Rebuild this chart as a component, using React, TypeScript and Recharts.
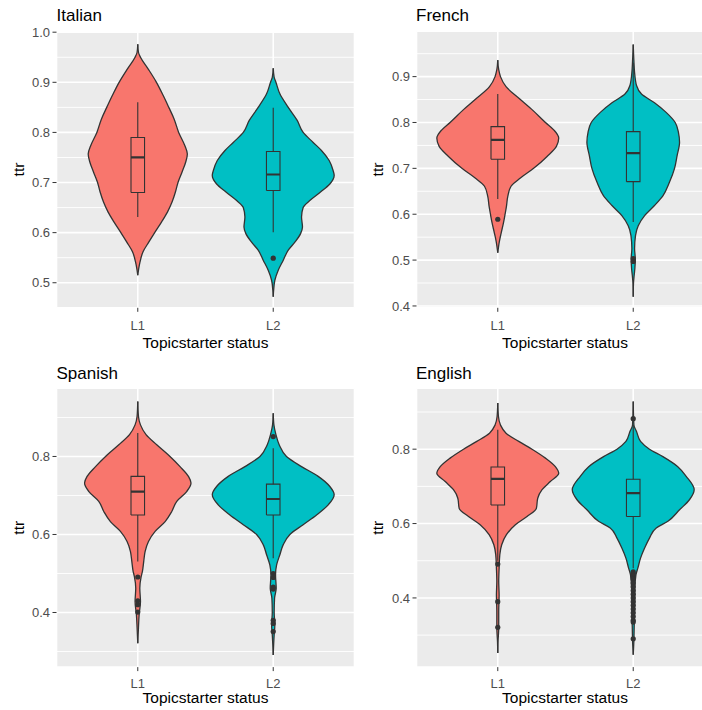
import React from "react";
import { ComposedChart, Area, Scatter, XAxis, YAxis, CartesianGrid } from "recharts";

const CATEGORIES = ["L1", "L2"];
const GROUP_FILLS = ["#F8766D", "#00BFC4"];
const INK = "#333333";
const FONT = '"Liberation Sans", Arial, Helvetica, sans-serif';

// violin outlines: ttr value and half width (in category units)
const italianL1Ttr = [0.976, 0.96, 0.95, 0.927, 0.9, 0.874, 0.85, 0.827, 0.8, 0.774, 0.757, 0.741, 0.721, 0.7, 0.681, 0.661, 0.641, 0.621, 0.6, 0.581, 0.562, 0.542, 0.528, 0.515];
const italianL1Width = [0, 0.005, 0.02, 0.076, 0.138, 0.187, 0.229, 0.268, 0.302, 0.347, 0.366, 0.354, 0.327, 0.297, 0.278, 0.253, 0.219, 0.175, 0.125, 0.081, 0.039, 0.017, 0.007, 0];
const italianL2Ttr = [0.928, 0.91, 0.9, 0.877, 0.85, 0.824, 0.8, 0.78, 0.764, 0.744, 0.724, 0.714, 0.697, 0.681, 0.664, 0.65, 0.631, 0.611, 0.598, 0.581, 0.565, 0.545, 0.525, 0.505, 0.485, 0.472];
const italianL2Width = [0, 0.007, 0.02, 0.049, 0.111, 0.177, 0.221, 0.295, 0.356, 0.413, 0.442, 0.45, 0.418, 0.349, 0.27, 0.221, 0.209, 0.216, 0.202, 0.16, 0.111, 0.074, 0.037, 0.012, 0.003, 0];

const frenchL1Ttr = [0.936, 0.915, 0.9, 0.878, 0.85, 0.828, 0.8, 0.784, 0.766, 0.748, 0.726, 0.7, 0.679, 0.661, 0.639, 0.617, 0.6, 0.581, 0.559, 0.541, 0.516];
const frenchL1Width = [0, 0.007, 0.02, 0.061, 0.167, 0.253, 0.352, 0.413, 0.45, 0.433, 0.364, 0.265, 0.167, 0.098, 0.074, 0.064, 0.054, 0.042, 0.025, 0.012, 0];
const frenchL2Ttr = [0.97, 0.934, 0.909, 0.88, 0.862, 0.843, 0.822, 0.8, 0.778, 0.757, 0.728, 0.7, 0.67, 0.64, 0.619, 0.597, 0.575, 0.554, 0.525, 0.503, 0.481, 0.467, 0.45, 0.42];
const frenchL2Width = [0, 0.005, 0.01, 0.025, 0.061, 0.157, 0.243, 0.31, 0.334, 0.342, 0.324, 0.305, 0.268, 0.219, 0.157, 0.084, 0.037, 0.017, 0.01, 0.015, 0.012, 0.007, 0.002, 0];

const spanishL1Ttr = [0.941, 0.903, 0.881, 0.856, 0.83, 0.8, 0.774, 0.749, 0.732, 0.71, 0.685, 0.659, 0.633, 0.608, 0.582, 0.556, 0.531, 0.505, 0.492, 0.462, 0.428, 0.394, 0.36, 0.321];
const spanishL1Width = [0, 0.005, 0.02, 0.061, 0.14, 0.238, 0.312, 0.374, 0.393, 0.361, 0.288, 0.251, 0.202, 0.128, 0.079, 0.054, 0.044, 0.034, 0.025, 0.015, 0.02, 0.01, 0.005, 0];
const spanishL2Ttr = [0.911, 0.881, 0.856, 0.83, 0.8, 0.774, 0.749, 0.723, 0.702, 0.676, 0.65, 0.625, 0.6, 0.574, 0.548, 0.522, 0.497, 0.462, 0.437, 0.4, 0.368, 0.343, 0.291];
const spanishL2Width = [0, 0.005, 0.02, 0.044, 0.098, 0.209, 0.332, 0.418, 0.45, 0.406, 0.32, 0.221, 0.123, 0.074, 0.049, 0.025, 0.017, 0.022, 0.01, 0.007, 0.012, 0.007, 0];

const englishL1Ttr = [0.924, 0.888, 0.865, 0.843, 0.821, 0.8, 0.776, 0.753, 0.735, 0.713, 0.691, 0.668, 0.641, 0.619, 0.597, 0.57, 0.543, 0.516, 0.48, 0.444, 0.408, 0.364, 0.319, 0.283, 0.252];
const englishL1Width = [0, 0.005, 0.02, 0.061, 0.155, 0.253, 0.352, 0.425, 0.45, 0.388, 0.327, 0.295, 0.285, 0.216, 0.13, 0.064, 0.029, 0.015, 0.01, 0.007, 0.01, 0.007, 0.007, 0.002, 0];
const englishL2Ttr = [0.928, 0.865, 0.847, 0.821, 0.8, 0.78, 0.753, 0.727, 0.691, 0.664, 0.637, 0.606, 0.588, 0.561, 0.534, 0.507, 0.48, 0.462, 0.426, 0.373, 0.319, 0.287, 0.247];
const englishL2Width = [0, 0.005, 0.025, 0.054, 0.12, 0.219, 0.329, 0.391, 0.45, 0.415, 0.342, 0.256, 0.17, 0.12, 0.084, 0.054, 0.034, 0.02, 0.012, 0.01, 0.007, 0.005, 0];

// box stats: lower whisker, q1, median, q3, upper whisker
const italianL1Box = [0.631, 0.68, 0.75, 0.79, 0.86];
const italianL2Box = [0.601, 0.684, 0.716, 0.762, 0.849];
const frenchL1Box = [0.633, 0.72, 0.762, 0.791, 0.862];
const frenchL2Box = [0.583, 0.671, 0.733, 0.78, 0.93];
const spanishL1Box = [0.531, 0.65, 0.71, 0.749, 0.86];
const spanishL2Box = [0.539, 0.65, 0.691, 0.729, 0.821];
const englishL1Box = [0.5, 0.65, 0.72, 0.752, 0.852];
const englishL2Box = [0.48, 0.619, 0.682, 0.719, 0.865];

// outliers
const italianL1Out: number[] = [];
const italianL2Out = [0.549];
const frenchL1Out = [0.589];
const frenchL2Out = [0.503, 0.497];
const spanishL1Out = [0.491, 0.43, 0.42, 0.401];
const spanishL2Out = [0.851, 0.5, 0.49, 0.465, 0.46, 0.38, 0.372, 0.351];
const englishL1Out = [0.491, 0.39, 0.321];
const englishL2Out = [0.882, 0.47, 0.465, 0.46, 0.455, 0.45, 0.44, 0.43, 0.42, 0.41, 0.4, 0.39, 0.38, 0.37, 0.36, 0.35, 0.34, 0.335, 0.29];

// y axis breaks
const italianTicks = [0.5, 0.6, 0.7, 0.8, 0.9, 1.0];
const italianMinor = [0.55, 0.65, 0.75, 0.85, 0.95];
const frenchTicks = [0.4, 0.5, 0.6, 0.7, 0.8, 0.9];
const frenchMinor = [0.45, 0.55, 0.65, 0.75, 0.85, 0.95];
const lowerTicks = [0.4, 0.6, 0.8];
const lowerMinor = [0.3, 0.5, 0.7, 0.9];

const panels = [
  {
    title: "Italian", l1: [italianL1Ttr, italianL1Width], l2: [italianL2Ttr, italianL2Width],
    boxes: [italianL1Box, italianL2Box], outliers: [italianL1Out, italianL2Out],
    ticks: italianTicks, minor: italianMinor, domain: [0.45, 1.002],
    plotLeft: 56.5, plotTop: 31.2, plotBottom: 307.8, titleY: 20.5, axisTitleY: 348.3, tickMargin: 9,
  },
  {
    title: "French", l1: [frenchL1Ttr, frenchL1Width], l2: [frenchL2Ttr, frenchL2Width],
    boxes: [frenchL1Box, frenchL2Box], outliers: [frenchL1Out, frenchL2Out],
    ticks: frenchTicks, minor: frenchMinor, domain: [0.396, 0.999],
    plotLeft: 416, plotTop: 31.2, plotBottom: 307.8, titleY: 20.5, axisTitleY: 348.3, tickMargin: 9,
  },
  {
    title: "Spanish", l1: [spanishL1Ttr, spanishL1Width], l2: [spanishL2Ttr, spanishL2Width],
    boxes: [spanishL1Box, spanishL2Box], outliers: [spanishL1Out, spanishL2Out],
    ticks: lowerTicks, minor: lowerMinor, domain: [0.26, 0.975],
    plotLeft: 56.5, plotTop: 388.3, plotBottom: 667.2, titleY: 379, axisTitleY: 703, tickMargin: 8,
  },
  {
    title: "English", l1: [englishL1Ttr, englishL1Width], l2: [englishL2Ttr, englishL2Width],
    boxes: [englishL1Box, englishL2Box], outliers: [englishL1Out, englishL2Out],
    ticks: lowerTicks, minor: lowerMinor, domain: [0.214, 0.964],
    plotLeft: 416, plotTop: 388.3, plotBottom: 667.2, titleY: 379, axisTitleY: 703, tickMargin: 8,
  },
];

const MARGIN_TOP = 31.2;
const AXIS_W = 56.5;
const PLOT_W = 298;
const BOX_HALF = 0.05;

// one row per ttr value; a violin that has no reading there gets a gap
function violinRows(l1: number[][], l2: number[][]) {
  const ys = Array.from(new Set([...l1[0], ...l2[0]])).sort((a, b) => b - a);
  return ys.map((y) => {
    const i = l1[0].indexOf(y);
    const j = l2[0].indexOf(y);
    return {
      y,
      l1: i >= 0 ? [1 - l1[1][i], 1 + l1[1][i]] : [null, null],
      l2: j >= 0 ? [2 - l2[1][j], 2 + l2[1][j]] : [null, null],
    };
  });
}

function boxParts(center: number, stats: number[]) {
  const [lo, q1, med, q3, hi] = stats;
  const a = center - BOX_HALF;
  const b = center + BOX_HALF;
  return {
    box: [{ x: a, y: q1 }, { x: b, y: q1 }, { x: b, y: q3 }, { x: a, y: q3 }, { x: a, y: q1 }],
    median: [{ x: a, y: med }, { x: b, y: med }],
    upper: [{ x: center, y: q3 }, { x: center, y: hi }],
    lower: [{ x: center, y: lo }, { x: center, y: q1 }],
  };
}

const noMark = () => <g />;
const outlierMark = (p: any) => <circle cx={p.cx} cy={p.cy} r={2.6} fill={INK} />;

const tickStyle = { fill: "#4D4D4D", fontSize: 13, fontFamily: FONT };

function ViolinPanel({ panel }: { panel: any }) {
  const rows = violinRows(panel.l1, panel.l2);
  const height = panel.plotBottom - panel.plotTop + MARGIN_TOP + 48;
  return (
    <div style={{ position: "absolute", left: panel.plotLeft - AXIS_W, top: panel.plotTop - MARGIN_TOP }}>
      <ComposedChart
        layout="vertical"
        width={AXIS_W + PLOT_W + 5.5}
        height={height}
        data={rows}
        margin={{ top: MARGIN_TOP, right: 5.5, bottom: 8, left: 0 }}
      >
        <CartesianGrid fill="#EBEBEB" stroke="#FFFFFF" strokeWidth={1.6} />
        <CartesianGrid stroke="#FFFFFF" strokeWidth={0.9} vertical={false} horizontalValues={panel.minor} />
        <XAxis
          type="number"
          domain={[0.4, 2.6]}
          ticks={[1, 2]}
          interval={0}
          allowDataOverflow
          tickFormatter={(v: number) => CATEGORIES[v - 1]}
          axisLine={false}
          tickLine={{ stroke: INK, strokeWidth: 1 }}
          tickSize={4}
          tickMargin={panel.tickMargin}
          height={40}
          tick={tickStyle}
        />
        <YAxis
          type="number"
          dataKey="y"
          reversed
          domain={panel.domain}
          ticks={panel.ticks}
          interval={0}
          allowDataOverflow
          tickFormatter={(v: number) => v.toFixed(1)}
          axisLine={false}
          tickLine={{ stroke: INK, strokeWidth: 1 }}
          tickSize={4}
          tickMargin={2.5}
          width={AXIS_W}
          tick={tickStyle}
        />
        {["l1", "l2"].map((key, g) => (
          <Area
            key={key}
            dataKey={key}
            type="monotone"
            connectNulls
            fill={GROUP_FILLS[g]}
            fillOpacity={1}
            stroke={INK}
            strokeWidth={1.3}
            isAnimationActive={false}
          />
        ))}
        {panel.boxes.map((stats: number[], g: number) => {
          const parts = boxParts(g + 1, stats);
          return [
            <Scatter key={`b${g}`} data={parts.box} dataKey="x" shape={noMark} line={{ stroke: INK, strokeWidth: 1.1 }} isAnimationActive={false} />,
            <Scatter key={`u${g}`} data={parts.upper} dataKey="x" shape={noMark} line={{ stroke: INK, strokeWidth: 1.1 }} isAnimationActive={false} />,
            <Scatter key={`l${g}`} data={parts.lower} dataKey="x" shape={noMark} line={{ stroke: INK, strokeWidth: 1.1 }} isAnimationActive={false} />,
            <Scatter key={`m${g}`} data={parts.median} dataKey="x" shape={noMark} line={{ stroke: INK, strokeWidth: 2.2 }} isAnimationActive={false} />,
          ];
        })}
        {panel.outliers.map((vals: number[], g: number) => (
          <Scatter
            key={`o${g}`}
            data={vals.map((y) => ({ x: g + 1, y }))}
            dataKey="x"
            shape={outlierMark}
            isAnimationActive={false}
          />
        ))}
      </ComposedChart>
    </div>
  );
}

export default function App() {
  return (
    <div style={{ position: "absolute", left: 0, top: 0, width: 702, height: 710, overflow: "hidden", background: "#FFFFFF" }}>
      {panels.map((p) => (
        <ViolinPanel key={p.title} panel={p} />
      ))}
      <svg width={702} height={710} style={{ position: "absolute", left: 0, top: 0, pointerEvents: "none" }} fontFamily={FONT}>
        {panels.map((p) => {
          const cx = p.plotLeft + PLOT_W / 2;
          const cy = (p.plotTop + p.plotBottom) / 2;
          const lx = p.plotLeft - 38 + 5;
          return (
            <g key={p.title}>
              <text x={p.plotLeft} y={p.titleY} fontSize={17} fill="#000000">{p.title}</text>
              <text x={cx} y={p.axisTitleY} fontSize={15.5} fill="#000000" textAnchor="middle">Topicstarter status</text>
              <text x={lx} y={cy} fontSize={15.5} fill="#000000" textAnchor="middle" transform={`rotate(-90 ${lx} ${cy})`}>ttr</text>
            </g>
          );
        })}
      </svg>
    </div>
  );
}
